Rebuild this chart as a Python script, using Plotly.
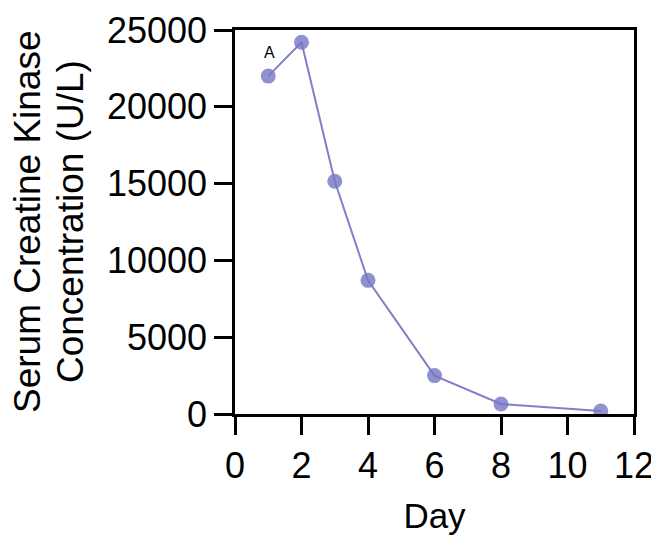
import plotly.graph_objects as go

days = [1, 2, 3, 4, 6, 8, 11]
ck = [22000, 24200, 15150, 8700, 2500, 650, 200]
x_ticks = [0, 2, 4, 6, 8, 10, 12]
y_ticks = [0, 5000, 10000, 15000, 20000, 25000]
y_title_lines = ["Serum Creatine Kinase", "Concentration (U/L)"]

FONT = "Liberation Sans, Arial"

fig = go.Figure()
fig.add_trace(go.Scatter(
    x=days, y=ck, mode="lines+markers",
    line=dict(color="rgb(128,128,200)", width=2),
    marker=dict(size=15, color="rgba(118,118,196,0.8)", line=dict(width=0)),
    showlegend=False,
))
fig.add_annotation(x=1, y=22000, text="A", showarrow=False, yshift=24, xshift=1,
                   font=dict(size=16, color="black", family=FONT))

for xp, line in zip([-0.5213, -0.4135], y_title_lines):
    fig.add_annotation(xref="paper", yref="paper", x=xp, y=0.5, text=line,
                       textangle=-90, showarrow=False, xanchor="center", yanchor="middle",
                       font=dict(size=37, color="black", family=FONT))

axis_common = dict(
    showgrid=False, zeroline=False, showline=True, linecolor="black", linewidth=2.5,
    mirror=True, ticks="outside", ticklen=18, tickwidth=2.5, tickcolor="black",
    tickfont=dict(size=36, color="black", family=FONT), automargin=False,
)
fig.update_xaxes(range=[0, 12], tickvals=x_ticks,
                 title=dict(text="Day", font=dict(size=35, color="black", family=FONT), standoff=22),
                 **axis_common)
fig.update_yaxes(range=[0, 25000], tickvals=y_ticks, tickformat="d", **axis_common)

fig.update_layout(
    width=651, height=527,
    margin=dict(l=227, r=25, t=22, b=121),
    plot_bgcolor="white", paper_bgcolor="white",
)
fig.write_html("out.html")
